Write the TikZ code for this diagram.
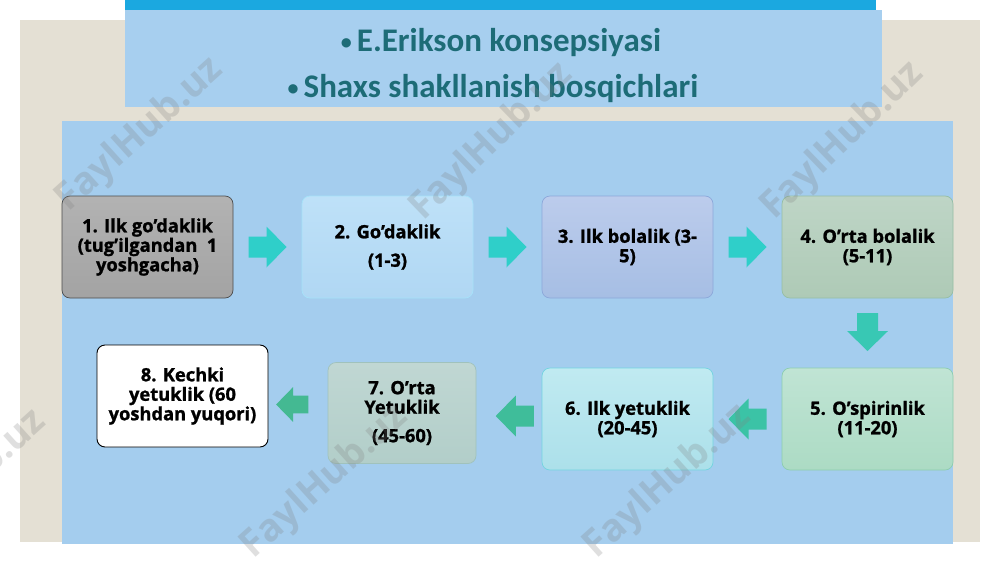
\documentclass[tikz,border=0pt]{standalone}
\usepackage{fontspec}
\setmainfont{Open Sans}[BoldFeatures={FakeBold=1.2}]
\newfontfamily\titlefont{Carlito}
\newfontfamily\wmfont{Open Sans}
\usetikzlibrary{calc}
\definecolor{beige}{HTML}{E4E0D4}
\definecolor{barblue}{HTML}{1BA8E0}
\definecolor{titlebg}{HTML}{A7CFEF}
\definecolor{panelbg}{HTML}{A4CDEE}
\definecolor{titletxt}{HTML}{1D6C77}
\definecolor{arrowA}{HTML}{2FCFC9}
\definecolor{arrowB}{HTML}{38C8B4}
\definecolor{arrowC}{HTML}{3BC3A6}
\definecolor{arrowD}{HTML}{3FBD9A}
\definecolor{arrowE}{HTML}{44B992}
\newcommand{\tbul}{{\fontsize{22}{22}\selectfont\raisebox{1.5pt}{•}}\hspace{5pt}}
\tikzset{
  box/.style={rounded corners=8pt, minimum width=171pt, minimum height=102pt,
    align=center, inner sep=2pt, line width=0.7pt,
    font=\bfseries\fontsize{18.3}{19.5}\selectfont},
  titletext/.style={text=titletxt, font=\titlefont\bfseries\fontsize{33}{36}\selectfont, inner sep=0pt},
  wm/.style={text=gray, opacity=0.25, font=\wmfont\bfseries\fontsize{38}{40}\selectfont, inner sep=0pt},
  blockarrow/.pic={\fill[pic actions] (-19,-10.5) -- (-1,-10.5) -- (-1,-20.5) -- (19,0) -- (-1,20.5) -- (-1,10.5) -- (-19,10.5) -- cycle;}
}
\begin{document}
\begin{tikzpicture}[x=1pt,y=-1pt]
\useasboundingbox (0,0) rectangle (1000,562);
\fill[white] (0,0) rectangle (1000,562);
% background panels
\fill[beige] (20,20) rectangle (980,542);
\fill[titlebg] (125,10) rectangle (882,107);
\fill[barblue] (125,0) rectangle (876,10);
\fill[panelbg] (62,121) rectangle (953,544);
% title
\node[titletext, anchor=base] (t1) at (501,51) {\tbul E.Erikson konsepsiyasi};
\node[titletext, anchor=base] (t2) at (493,97) {\tbul Shaxs shakllanish bosqichlari};
% boxes
\node[box, draw=black!70, top color=black!30, bottom color=black!36] (b1) at (147.5,247)
  {1. Ilk go’daklik\\(tug’ilgandan\ \ 1\\yoshgacha)};
\node[box, draw=cyan!35, top color={rgb,255:red,190;green,225;blue,248}, bottom color={rgb,255:red,176;green,215;blue,243}] (b2) at (387.5,247)
  {2. Go’daklik\\[9pt](1-3)};
\node[box, draw={rgb,255:red,140;green,168;blue,218}, top color={rgb,255:red,188;green,204;blue,236}, bottom color={rgb,255:red,166;green,190;blue,228}] (b3) at (627.5,247)
  {3. Ilk bolalik (3-\\5)};
\node[box, draw={rgb,255:red,150;green,190;blue,165}, top color={rgb,255:red,190;green,213;blue,198}, bottom color={rgb,255:red,174;green,202;blue,182}] (b4) at (867.5,247)
  {4. O’rta bolalik\\(5-11)};
\node[box, draw={rgb,255:red,140;green,205;blue,175}, top color={rgb,255:red,192;green,228;blue,212}, bottom color={rgb,255:red,172;green,219;blue,196}] (b5) at (867.5,419)
  {5. O’spirinlik\\(11-20)};
\node[box, draw={rgb,255:red,115;green,212;blue,224}, top color={rgb,255:red,192;green,234;blue,241}, bottom color={rgb,255:red,172;green,224;blue,234}] (b6) at (627.5,419)
  {6. Ilk yetuklik\\(20-45)};
\node[box, minimum width=148pt, minimum height=101pt, draw={rgb,255:red,160;green,194;blue,188}, top color={rgb,255:red,192;green,215;blue,211}, bottom color={rgb,255:red,178;green,206;blue,201}] (b7) at (402,413)
  {7. O’rta\\Yetuklik\\[9pt](45-60)};
\node[box, draw=black, fill=white, line width=0.9pt] (b8) at (182.5,396)
  {8. Kechki\\yetuklik (60\\yoshdan yuqori)};
% arrows
\pic[fill=arrowA] at ($(b1)!0.5!(b2)$) {blockarrow};
\pic[fill=arrowA] at ($(b2)!0.5!(b3)$) {blockarrow};
\pic[fill=arrowA] at ($(b3)!0.5!(b4)$) {blockarrow};
\pic[fill=arrowB, rotate=-90] at ($(b4.south)!0.5!(b5.north)+(0,-1)$) {blockarrow};
\pic[fill=arrowC, rotate=180] at ($(b5)!0.5!(b6)$) {blockarrow};
\pic[fill=arrowD, rotate=180] at ($(b6)!0.5!(b7)$) {blockarrow};
\pic[fill=arrowE, rotate=180, scale=0.85] at ($(b7)!0.5!(b8)$) {blockarrow};
% watermarks
\node[wm, rotate=42] (w1) at (140,135) {FaylHub.uz};
\node[wm, rotate=44] (w2) at (492,142) {FaylHub.uz};
\node[wm, rotate=44] (w3) at (843,141) {FaylHub.uz};
\node[wm, rotate=42] (w4) at (-37,487) {FaylHub.uz};
\node[wm, rotate=42] (w5) at (325,482) {FaylHub.uz};
\node[wm, rotate=42] (w6) at (668,482) {FaylHub.uz};
\end{tikzpicture}
\end{document}
